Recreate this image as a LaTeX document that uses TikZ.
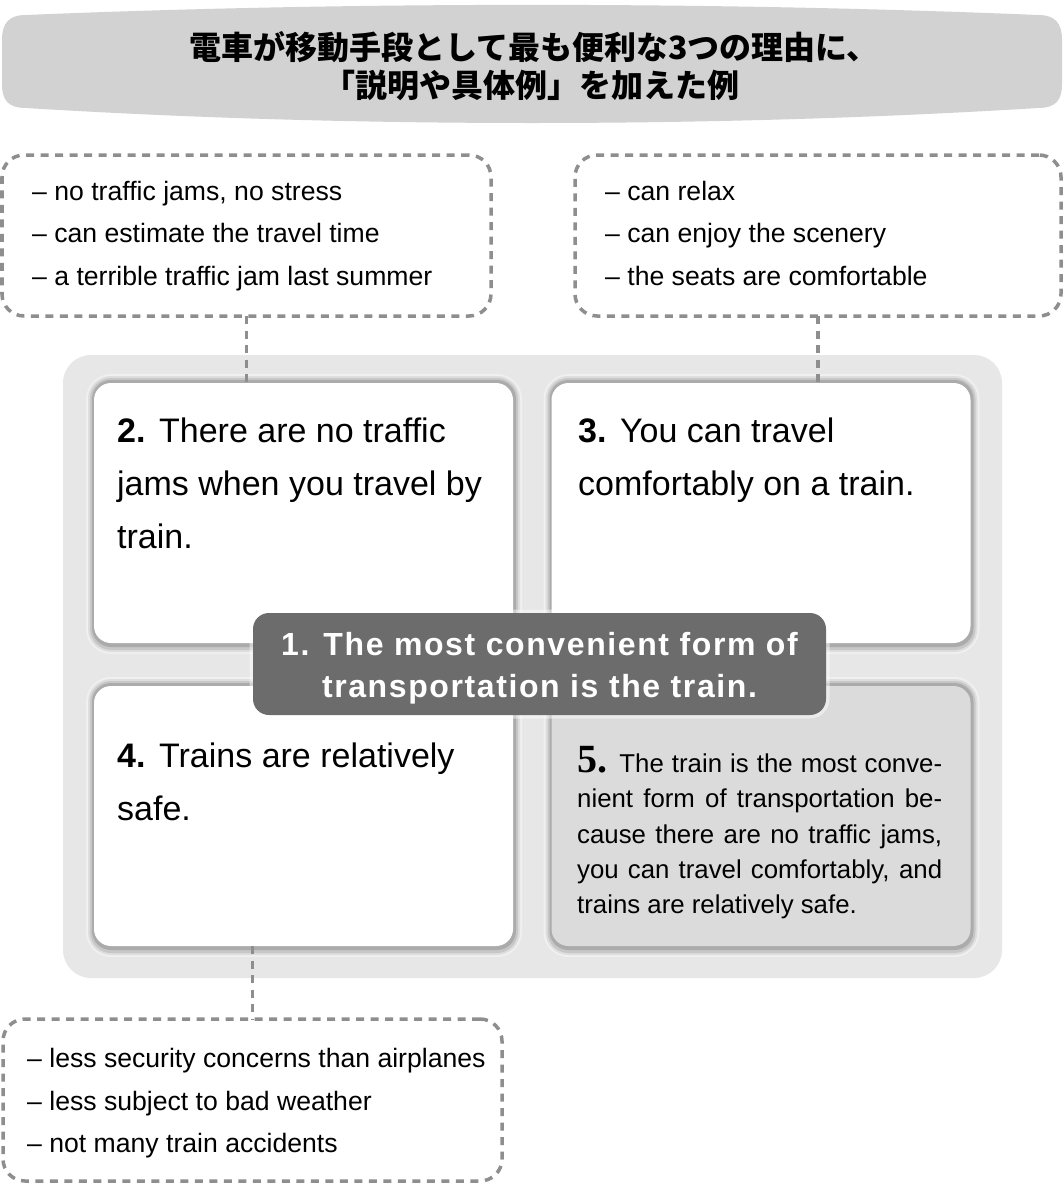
\documentclass[tikz,border=0pt]{standalone}
\usepackage{fontspec}
\setmainfont{Liberation Sans}
\newfontfamily\cjkfont{Noto Sans CJK JP}
\newfontfamily\numserif{Liberation Serif}
\newfontfamily\spacedfont[LetterSpace=5]{Liberation Sans}
\definecolor{bannergray}{RGB}{210,210,210}
\definecolor{panelgray}{RGB}{231,231,231}
\definecolor{card5gray}{RGB}{219,219,219}
\definecolor{centregray}{RGB}{108,108,108}
\definecolor{dashgray}{RGB}{142,142,142}
\pgfdeclarelayer{background}
\pgfdeclarelayer{shadowlayer}
\pgfsetlayers{background,shadowlayer,main}
\tikzset{
  dashbox/.style={draw=dashgray, line width=3.5pt, dash pattern=on 8pt off 6.5pt,
    rounded corners=22pt, inner sep=0pt, outer sep=0pt},
  dashline/.style={draw=dashgray, line width=3.5pt, dash pattern=on 8pt off 6.5pt},
  boxtext/.style={anchor=base west, inner sep=0pt, font=\fontsize{26.6}{30}\selectfont},
  cardbox/.style={fill=white, rounded corners=17pt, minimum width=419pt,
    minimum height=260pt, inner sep=0pt, outer sep=0pt},
  cardtext/.style={anchor=base west, inner sep=0pt, font=\fontsize{34}{40}\selectfont},
  smalltext/.style={anchor=base west, inner sep=0pt, font=\fontsize{25.8}{30}\selectfont},
  titletext/.style={anchor=base, inner sep=0pt, font=\cjkfont\bfseries\fontsize{32}{38}\selectfont},
  centrebox/.style={fill=centregray, rounded corners=16pt, minimum width=573pt,
    minimum height=102pt, inner sep=0pt, outer sep=0pt,
    preaction={draw=white, line width=7pt, opacity=0.45}},
  centretext/.style={anchor=base, inner sep=0pt, text=white,
    font=\spacedfont\bfseries\fontsize{32}{43}\selectfont},
  panelbox/.style={fill=panelgray, rounded corners=28pt, minimum width=939pt,
    minimum height=623pt, inner sep=0pt, outer sep=0pt}
}
\begin{document}
\begin{tikzpicture}[x=1pt,y=-1pt]
\useasboundingbox (0,0) rectangle (1064,1186);
\begin{pgfonlayer}{background}
  \fill[white] (0,0) rectangle (1064,1186);
  % banner
  \fill[bannergray] (26,15) .. controls (350,1.5) and (714,1.5) .. (1038,15)
    .. controls (1056,15) and (1062,24) .. (1062,40) -- (1062,84)
    .. controls (1062,100) and (1056,108) .. (1038,108)
    .. controls (714,128) and (350,128) .. (26,108)
    .. controls (8,108) and (2,100) .. (2,84) -- (2,40)
    .. controls (2,24) and (8,15) .. (26,15) -- cycle;
  \node[panelbox] (panel) at (532.5,666.5) {};
\end{pgfonlayer}

% title
\node[titletext] (title1) at (534,59) {電車が移動手段として最も便利な3つの理由に、};
\node[titletext] (title2) at (531,97) {「説明や具体例」を加えた例};

% cards
\node[cardbox] (c2) at (303.5,513) {};
\node[cardbox] (c3) at (761,513) {};
\node[cardbox] (c4) at (303.5,816) {};
\node[cardbox, fill=card5gray] (c5) at (761,816) {};

\begin{pgfonlayer}{shadowlayer}
\foreach \c in {c2,c3,c4,c5} {
  \fill[black!6, rounded corners=25pt] ([shift={(-8,-9)}]\c.north west) rectangle ([shift={(9,11)}]\c.south east);
  \fill[black!13, rounded corners=23pt] ([shift={(-6,-7)}]\c.north west) rectangle ([shift={(7,9)}]\c.south east);
  \fill[black!22, rounded corners=21pt] ([shift={(-4,-5)}]\c.north west) rectangle ([shift={(5,7)}]\c.south east);
  \fill[black!33, rounded corners=19pt] ([shift={(-2,-3)}]\c.north west) rectangle ([shift={(3,4)}]\c.south east);
}
\end{pgfonlayer}

% dashed boxes
\node[dashbox, minimum width=489pt, minimum height=161pt] (bA) at (246.5,235.5) {};
\node[dashbox, minimum width=486pt, minimum height=161pt] (bB) at (818,235.5) {};
\node[dashbox, minimum width=499pt, minimum height=162pt] (bC) at (252.5,1100) {};

% connectors
\draw[dashline] (bA.south) -- (bA.south |- c2.north);
\draw[dashline] (bB.south) -- (bB.south |- c3.north);
\draw[dashline] (bC.north |- c4.south) -- (bC.north);

% box texts
\node[boxtext] (a1) at (32,200) {– no traffic jams, no stress};
\node[boxtext] (a2) at (32,242) {– can estimate the travel time};
\node[boxtext] (a3) at (32,285) {– a terrible traffic jam last summer};
\node[boxtext] (b1) at (605,200) {– can relax};
\node[boxtext] (b2) at (605,242) {– can enjoy the scenery};
\node[boxtext] (b3) at (605,285) {– the seats are comfortable};
\node[boxtext] (cc1) at (27,1067) {– less security concerns than airplanes};
\node[boxtext] (cc2) at (27,1110) {– less subject to bad weather};
\node[boxtext] (cc3) at (27,1152) {– not many train accidents};

% card texts
\node[cardtext] (t21) at (117,442) {\textbf{2.}\hspace{0.4em}There are no traffic};
\node[cardtext] (t22) at (117,495) {jams when you travel by};
\node[cardtext] (t23) at (117,548) {train.};
\node[cardtext] (t31) at (578,442) {\textbf{3.}\hspace{0.4em}You can travel};
\node[cardtext] (t32) at (578,495) {comfortably on a train.};
\node[cardtext] (t41) at (117,767) {\textbf{4.}\hspace{0.4em}Trains are relatively};
\node[cardtext] (t42) at (117,820) {safe.};
\node[smalltext] (t51) at (577,772) {\makebox[365pt][s]{{\numserif\bfseries\fontsize{40}{40}\selectfont 5.} The train is the most conve-}};
\node[smalltext] (t52) at (577,807) {\makebox[365pt][s]{nient form of transportation be-}};
\node[smalltext] (t53) at (577,843) {\makebox[365pt][s]{cause there are no traffic jams,}};
\node[smalltext] (t54) at (577,878) {\makebox[365pt][s]{you can travel comfortably, and}};
\node[smalltext] (t55) at (577,913) {trains are relatively safe.};

% centre node
\node[centrebox] (c1) at (539.5,664) {};
\node[centretext] (c1a) at (539.5,655) {1. The most convenient form of};
\node[centretext] (c1b) at (539.5,697) {transportation is the train.};
\end{tikzpicture}
\end{document}
